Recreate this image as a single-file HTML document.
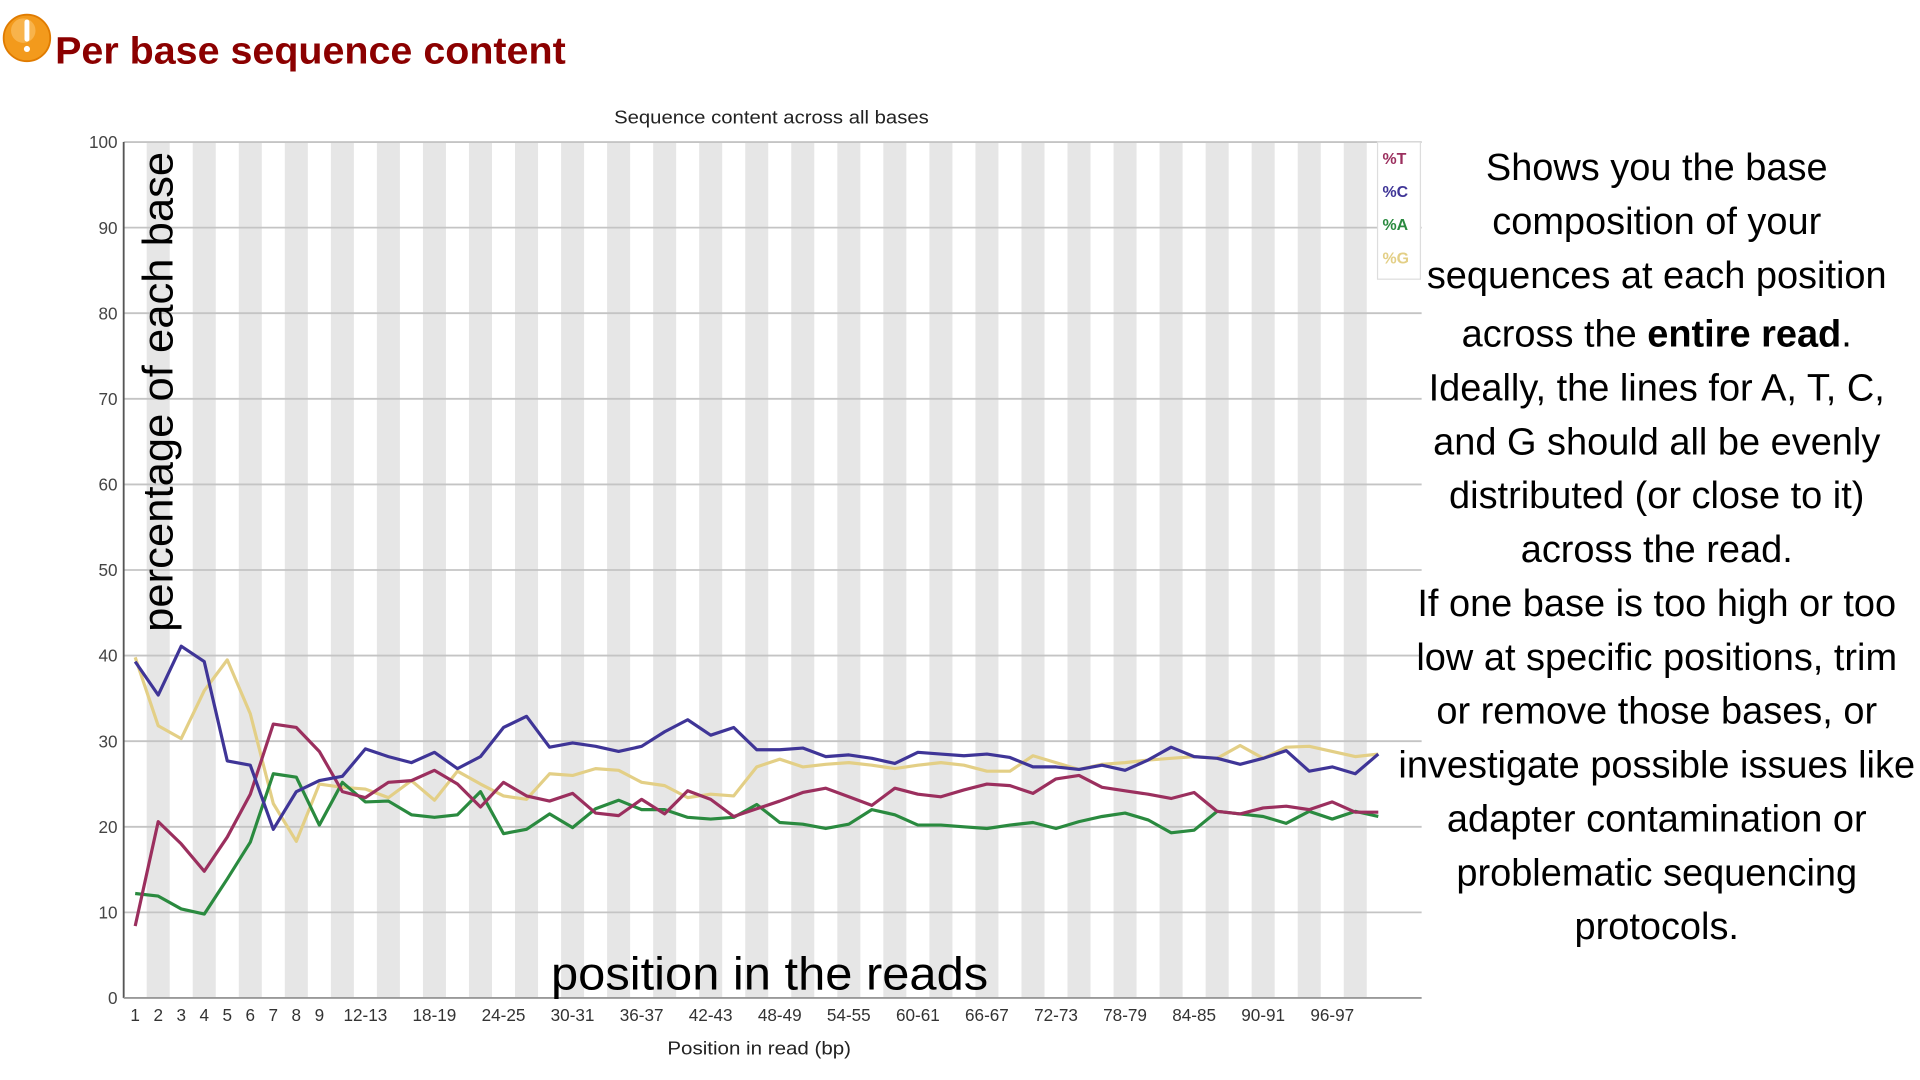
<!DOCTYPE html>
<html><head><meta charset="utf-8"><style>
html,body{margin:0;padding:0;background:#fff;}
svg{display:block;}
</style></head><body>
<svg id="chart" width="1920" height="1080" viewBox="0 0 1568 882" preserveAspectRatio="none" xmlns="http://www.w3.org/2000/svg" font-family="Liberation Sans, sans-serif">
  <rect x="0" y="0" width="1568" height="882" fill="#fff"/>
  <g>
    <circle cx="22" cy="31" r="19" fill="#f39a1c" stroke="#e07b00" stroke-width="1.5"/>
    <circle cx="19" cy="25" r="10" fill="#fbc56a" opacity="0.6"/>
    <rect x="20" y="16" width="4" height="18" rx="2" fill="#fff"/>
    <circle cx="22" cy="40" r="2.5" fill="#fff"/>
  </g>
  <text x="45" y="52" font-size="31" font-weight="bold" fill="#8b0000" textLength="417" lengthAdjust="spacingAndGlyphs">Per base sequence content</text>
  <text x="630" y="101" font-size="15" fill="#222" text-anchor="middle" textLength="257" lengthAdjust="spacingAndGlyphs">Sequence content across all bases</text>
  <g id="stripes"></g>
  <g id="grid"></g>
  <g id="yticks"></g>
  <g id="xticks"></g>
  <line x1="101" y1="116" x2="101" y2="815" stroke="#555" stroke-width="1.5"/>
  <line x1="101" y1="815" x2="1161" y2="815" stroke="#999" stroke-width="1.5"/>
  <g id="series"></g>
  <g>
    <rect x="1125" y="116" width="35" height="112" fill="#fff" stroke="#ddd"/>
    <text x="1129" y="134" font-size="13" font-weight="bold" fill="#9b2f5e">%T</text>
    <text x="1129" y="161" font-size="13" font-weight="bold" fill="#3f3597">%C</text>
    <text x="1129" y="188" font-size="13" font-weight="bold" fill="#2a8a3f">%A</text>
    <text x="1129" y="215" font-size="13" font-weight="bold" fill="#e3cf86">%G</text>
  </g>
  <text transform="translate(141,516) rotate(-90)" font-size="35" fill="#000" textLength="392" lengthAdjust="spacingAndGlyphs">percentage of each base</text>
  <text x="450" y="808" font-size="38" fill="#000" textLength="357" lengthAdjust="spacingAndGlyphs">position in the reads</text>
  <text x="620" y="861" font-size="15" fill="#222" text-anchor="middle" textLength="150" lengthAdjust="spacingAndGlyphs">Position in read (bp)</text>
  <g font-size="31" fill="#000" text-anchor="middle">
    <text x="1353" y="147">Shows you the base</text>
    <text x="1353" y="191">composition of your</text>
    <text x="1353" y="235">sequences at each position</text>
    <text x="1353" y="283">across the <tspan font-weight="bold">entire read</tspan>.</text>
    <text x="1353" y="327">Ideally, the lines for A, T, C,</text>
    <text x="1353" y="371">and G should all be evenly</text>
    <text x="1353" y="415">distributed (or close to it)</text>
    <text x="1353" y="459">across the read.</text>
    <text x="1353" y="503">If one base is too high or too</text>
    <text x="1353" y="547">low at specific positions, trim</text>
    <text x="1353" y="591">or remove those bases, or</text>
    <text x="1353" y="635">investigate possible issues like</text>
    <text x="1353" y="679">adapter contamination or</text>
    <text x="1353" y="723">problematic sequencing</text>
    <text x="1353" y="767">protocols.</text>
  </g>
</svg>
<script>
const categories = ["1","2","3","4","5","6","7","8","9","10-11","12-13","14-15","16-17","18-19","20-21","22-23","24-25","26-27","28-29","30-31","32-33","34-35","36-37","38-39","40-41","42-43","44-45","46-47","48-49","50-51","52-53","54-55","56-57","58-59","60-61","62-63","64-65","66-67","68-69","70-71","72-73","74-75","76-77","78-79","80-81","82-83","84-85","86-87","88-89","90-91","92-93","94-95","96-97","98-99","100-101"];
const shownLabels = ["1","2","3","4","5","6","7","8","9","12-13","18-19","24-25","30-31","36-37","42-43","48-49","54-55","60-61","66-67","72-73","78-79","84-85","90-91","96-97"];
const yTicks = [0,10,20,30,40,50,60,70,80,90,100];
const seriesT = [8.4,20.6,18.0,14.8,18.8,23.8,32.0,31.6,28.8,24.1,23.4,25.2,25.4,26.6,25.0,22.3,25.2,23.6,23.0,23.9,21.6,21.3,23.2,21.5,24.2,23.2,21.2,22.1,23.0,24.0,24.5,23.5,22.5,24.5,23.8,23.5,24.3,25.0,24.8,23.9,25.6,26.0,24.6,24.2,23.8,23.3,24.0,21.8,21.5,22.2,22.4,22.0,22.9,21.7,21.7];
const seriesC = [39.3,35.4,41.1,39.3,27.7,27.2,19.7,24.1,25.4,25.9,29.1,28.2,27.5,28.7,26.8,28.2,31.6,32.9,29.3,29.8,29.4,28.8,29.4,31.1,32.5,30.7,31.6,29.0,29.0,29.2,28.2,28.4,28.0,27.4,28.7,28.5,28.3,28.5,28.1,27.0,27.0,26.7,27.2,26.6,27.8,29.3,28.2,28.0,27.3,28.0,28.9,26.5,27.0,26.2,28.5];
const seriesA = [12.2,11.9,10.4,9.8,13.9,18.2,26.2,25.8,20.2,25.2,22.9,23.0,21.4,21.1,21.4,24.1,19.2,19.7,21.5,19.9,22.1,23.1,22.0,22.0,21.1,20.9,21.1,22.6,20.5,20.3,19.8,20.3,22.0,21.4,20.2,20.2,20.0,19.8,20.2,20.5,19.8,20.6,21.2,21.6,20.8,19.3,19.6,21.8,21.5,21.2,20.4,21.8,20.9,21.8,21.2];
const seriesG = [39.8,31.8,30.3,35.9,39.5,33.2,22.7,18.3,25.0,24.6,24.4,23.4,25.4,23.1,26.5,25.0,23.6,23.2,26.2,26.0,26.8,26.6,25.2,24.8,23.4,23.8,23.6,27.0,27.9,27.0,27.3,27.5,27.2,26.8,27.2,27.5,27.2,26.5,26.5,28.3,27.5,26.7,27.3,27.5,27.8,28.0,28.2,28.0,29.5,28.0,29.3,29.4,28.8,28.2,28.5];

const NS = "http://www.w3.org/2000/svg";
const plotLeft = 101, plotRight = 1161, plotTop = 116, plotBottom = 815, colW = 18.8;
function xPos(i){ return plotLeft + (i + 0.5) * colW; }
function yPos(v){ return plotBottom - (v / 100) * (plotBottom - plotTop); }
function mk(tag, attrs, parent){ const e = document.createElementNS(NS, tag); for (const k in attrs) e.setAttribute(k, attrs[k]); parent.appendChild(e); return e; }

const stripesGroup = document.getElementById('stripes');
for (let i = 1; i < categories.length; i += 2) {
  const r = mk('rect', {x: plotLeft + i * colW, y: plotTop, width: colW, height: plotBottom - plotTop, fill: '#e6e6e6'}, stripesGroup);
  
  
}
const gridGroup = document.getElementById('grid');
const yTickGroup = document.getElementById('yticks');
yTicks.forEach(v => {
  if (v > 0) {
    const l = mk('line', {x1: plotLeft, x2: plotRight, y1: yPos(v), y2: yPos(v), stroke: '#c4c4c4', 'stroke-width': 1.5}, gridGroup);
    
    
  }
  const t = mk('text', {x: 96, y: yPos(v) + 5, 'font-size': 14, fill: '#444', 'text-anchor': 'end'}, yTickGroup);
  t.textContent = v;
  
  
});
const xTickGroup = document.getElementById('xticks');
categories.forEach((c, i) => {
  if (shownLabels.indexOf(c) < 0) return;
  const t = mk('text', {x: xPos(i), y: 834, 'font-size': 14, fill: '#333', 'text-anchor': 'middle'}, xTickGroup);
  t.textContent = c;
  
  
});
const linesGroup = document.getElementById('series');
[[seriesG, '#e3cf86', 'line-g'], [seriesA, '#2a8a3f', 'line-a'], [seriesT, '#9b2f5e', 'line-t'], [seriesC, '#3f3597', 'line-c']].forEach(function(item) {
  const data = item[0], col = item[1], name = item[2];
  const pts = data.map((v, i) => xPos(i).toFixed(1) + ',' + yPos(v).toFixed(1)).join(' ');
  const p = mk('polyline', {points: pts, fill: 'none', stroke: col, 'stroke-width': 2.6, 'stroke-linejoin': 'round'}, linesGroup);
  
  
});
</script>
</body></html>
